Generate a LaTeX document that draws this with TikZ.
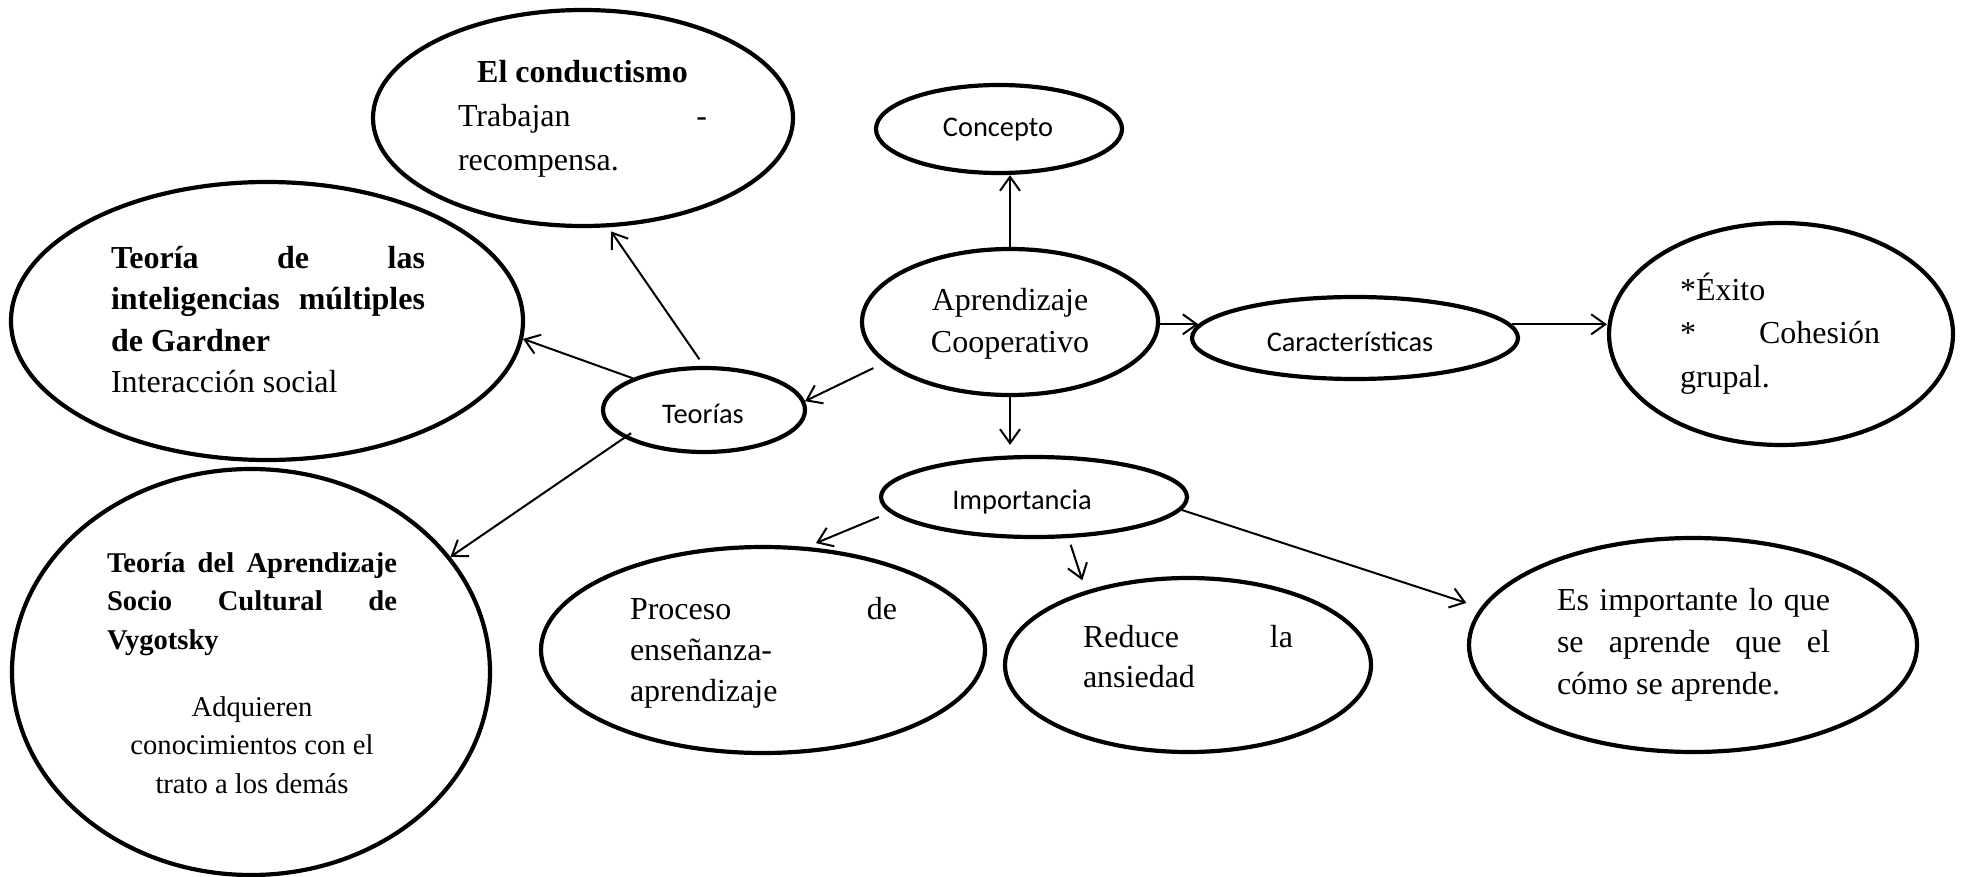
\documentclass[tikz,border=0pt]{standalone}
\usepackage{fontspec}
\setmainfont{Liberation Serif}
\newfontfamily\calfont{Carlito}
\usetikzlibrary{shapes.geometric,arrows.meta}
\newcommand\J[1]{\hbox to\hsize{#1}}
\begin{document}
\begin{tikzpicture}[x=0.5pt,y=-0.5pt,
  ell/.style={draw, ellipse, line width=2.1pt, inner sep=0pt},
  txt/.style={inner sep=0pt},
  lab/.style={inner sep=0pt, font=\calfont\fontsize{14.2}{17}\selectfont},
  arr/.style={-{Straight Barb[length=7pt,width=10pt]}, line width=1pt}
]
\path[fill=white] (0,0) rectangle (1963,877);
\useasboundingbox (0,0) rectangle (1963,877);

% ellipses
\node[ell, minimum width=210pt, minimum height=108pt] (con) at (583,118) {};
\node[ell, minimum width=256pt, minimum height=139pt] (gar) at (267,321) {};
\node[ell, minimum width=239pt, minimum height=203pt] (vyg) at (251,672) {};
\node[ell, minimum width=101pt, minimum height=42pt]  (teo) at (704,410) {};
\node[ell, minimum width=123pt, minimum height=44pt]  (cpt) at (999,129) {};
\node[ell, minimum width=148pt, minimum height=73pt]  (apr) at (1010,322) {};
\node[ell, minimum width=163pt, minimum height=41pt]  (car) at (1355,338) {};
\node[ell, minimum width=172pt, minimum height=111pt] (exi) at (1781,334) {};
\node[ell, minimum width=153pt, minimum height=40pt]  (imp) at (1034,497) {};
\node[ell, minimum width=222pt, minimum height=103pt] (pro) at (763,650) {};
\node[ell, minimum width=183pt, minimum height=87pt]  (red) at (1188,665) {};
\node[ell, minimum width=224pt, minimum height=107pt] (esi) at (1693,645) {};

% texts
\node[txt] (conT) at (582.5,119) {\parbox{124.5pt}{\fontsize{16}{22}\selectfont
  \J{\hfil\bfseries El conductismo\hfil}
  \J{Trabajan\hfill-}
  \J{recompensa.\hfil}}};
\node[txt] (garT) at (268,319.5) {\parbox{157pt}{\fontsize{16}{20.8}\selectfont
  \J{\bfseries Teoría\hfil de\hfil las}
  \J{\bfseries inteligencias\hfil múltiples}
  \J{\bfseries de Gardner\hfil}
  \J{Interacción social\hfil}}};
\node[txt] (vygT) at (252,673) {\parbox{145pt}{\fontsize{14.3}{19.3}\selectfont
  \J{\bfseries Teoría\hfil del\hfil Aprendizaje}
  \J{\bfseries Socio\hfil Cultural\hfil de}
  \J{\bfseries Vygotsky\hfil}
  \vskip 14pt
  \J{\hfil Adquieren\hfil}
  \J{\hfil conocimientos con el\hfil}
  \J{\hfil trato a los demás\hfil}}};
\node[txt] (proT) at (763.5,653) {\parbox{133.5pt}{\fontsize{16}{20.5}\selectfont
  \J{Proceso\hfil de}
  \J{enseñanza-\hfil}
  \J{aprendizaje\hfil}}};
\node[txt] (redT) at (1188,657) {\parbox{105pt}{\fontsize{16}{20}\selectfont
  \J{Reduce\hfil la}
  \J{ansiedad\hfil}}};
\node[txt] (esiT) at (1693.5,645) {\parbox{136.5pt}{\fontsize{16}{21}\selectfont
  \J{Es\hfil importante\hfil lo\hfil que}
  \J{se\hfil aprende\hfil que\hfil el}
  \J{cómo se aprende.\hfil}}};
\node[txt] (exiT) at (1780,333.5) {\parbox{100pt}{\fontsize{16}{21.7}\selectfont
  \J{*Éxito\hfil}
  \J{*\hfil Cohesión}
  \J{grupal.\hfil}}};
\node[txt, align=center, font=\fontsize{16}{21}\selectfont] (aprT) at (1010,324) {Aprendizaje\\Cooperativo};

\node[lab] (cptT) at (998,130) {Concepto};
\node[lab] (teoT) at (703,414) {Teorías};
\node[lab] (carT) at (1350,342) {Características};
\node[lab] (impT) at (1022,502) {Importancia};

% connectors
\draw[arr] (apr.north) -- (apr.north |- cpt.south);
\draw[arr] (apr.east |- car.175) -- (car.175);
\draw[arr] (car.5) -- (car.5 -| exi.west);
\draw[arr, shorten >=5pt] (apr.south) -- (apr.south |- imp.north);
\draw[arr, shorten <=6pt] (apr.198) -- (teo.5);
\draw[arr, shorten <=4pt, shorten >=2.5pt] (teo.north) -- (con.-77);
\draw[arr] (teo.156) -- (gar.-4);
\draw[arr] ([yshift=4pt]teo.south west) -- (vyg.30);
\draw[arr, shorten >=5pt] ([yshift=-10pt]imp.west) -- (pro.67);
\draw[arr, shorten <=3.5pt, shorten >=5.5pt] (imp.-50) -- (red.144);
\draw[arr, shorten >=7.5pt] (imp.-5) -- (esi.170);
\end{tikzpicture}
\end{document}
